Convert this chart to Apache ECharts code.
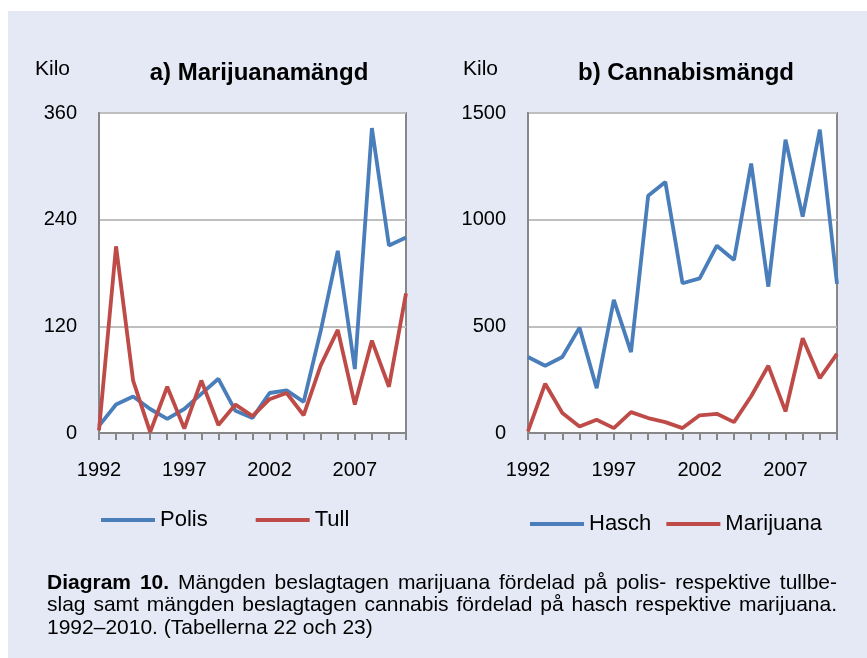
<!DOCTYPE html>
<html>
<head>
<meta charset="utf-8">
<script src="https://cdn.jsdelivr.net/npm/echarts@6/dist/echarts.min.js"></script>
<style>
html,body{margin:0;padding:0;background:#fff;}
#c{width:867px;height:658px;}
</style>
</head>
<body>
<div id="c"></div>
<script>
const years = ['1992','1993','1994','1995','1996','1997','1998','1999','2000','2001','2002','2003','2004','2005','2006','2007','2008','2009','2010'];
const polis = [8,32,41,27,16,27,44,61,25,17,45,48,35,115,205,72,343,211,220];
const tull = [3,210,59,1,52,5,59,9,32,19,38,45,20,76,116,32,104,52,157];
const hasch = [356,315,356,494,210,624,379,1112,1177,702,725,878,811,1263,686,1375,1014,1422,699];
const marijuana = [8,231,94,30,62,23,98,70,51,23,83,90,51,172,315,101,444,257,371];
const leftTicks = {min:0, max:360, interval:120};
const rightTicks = {min:0, max:1500, interval:500};
const captionBold = 'Diagram 10.';
const captionLines = [
  'Diagram 10. Mängden beslagtagen marijuana fördelad på polis- respektive tullbe-',
  'slag samt mängden beslagtagen cannabis fördelad på hasch respektive marijuana.',
  '1992–2010. (Tabellerna 22 och 23)'
];

const BLUE = '#4a7ebb', RED = '#be4b48';
const font = 'Liberation Sans, Arial, sans-serif';
const chart = echarts.init(document.getElementById('c'));

function xAx(gi){
  return {
    type:'category', gridIndex:gi, data:years, boundaryGap:false,
    axisLine:{show:true, lineStyle:{color:'#878787', width:2}},
    axisTick:{show:true, interval:0, length:7, lineStyle:{color:'#878787', width:2}},
    axisLabel:{interval:4, color:'#000', fontSize:20, fontFamily:font, margin:27},
    splitLine:{show:false}
  };
}
function yAx(gi, t){
  return {
    type:'value', gridIndex:gi, min:t.min, max:t.max, interval:t.interval,
    axisLine:{show:true, lineStyle:{color:'#878787', width:2}},
    axisTick:{show:false},
    axisLabel:{color:'#000', fontSize:20, fontFamily:font, margin:22, formatter:v => String(v)},
    splitLine:{show:true, lineStyle:{color:'#bfbfbf', width:2}}
  };
}
function ser(name, data, color, gi){
  return {
    type:'line', name:name, data:data, xAxisIndex:gi, yAxisIndex:gi,
    symbol:'none', lineStyle:{color:color, width:3.8}, itemStyle:{color:color},
    animation:false
  };
}

const graphics = [
  {type:'rect', shape:{x:8, y:11, width:859, height:647}, style:{fill:'#e5e9f5'}, z:-10},
  {type:'text', x:35, y:69, style:{text:'Kilo', fontSize:21, fontFamily:font, fill:'#000', verticalAlign:'middle'}},
  {type:'text', x:463, y:69, style:{text:'Kilo', fontSize:21, fontFamily:font, fill:'#000', verticalAlign:'middle'}}
];

// justified caption
const cv = document.createElement('canvas').getContext('2d');
const CAP_SIZE = 21, CAP_L = 47, CAP_R = 837;
function fontStr(b){ return (b ? 'bold ' : '') + CAP_SIZE + 'px "Liberation Sans", Arial, sans-serif'; }
captionLines.forEach((ln, i) => {
  const words = ln.split(' ');
  const boldCount = i === 0 ? captionBold.split(' ').length : 0;
  const items = words.map((w, k) => {
    const b = k < boldCount;
    cv.font = fontStr(b);
    return {w:w, b:b, width:cv.measureText(w).width};
  });
  cv.font = fontStr(false);
  const spaceW = cv.measureText(' ').width;
  const total = items.reduce((s, it) => s + it.width, 0);
  const justify = i < captionLines.length - 1;
  const gap = justify ? (CAP_R - CAP_L - total) / (items.length - 1) : spaceW;
  let x = CAP_L;
  const y = 583 + i * 22.5;
  items.forEach(it => {
    graphics.push({type:'text', x:x, y:y, style:{text:it.w, fontSize:CAP_SIZE, fontWeight:it.b ? 'bold' : 'normal',
      fontFamily:font, fill:'#000', verticalAlign:'middle'}});
    x += it.width + gap;
  });
});

chart.setOption({
  backgroundColor:'#fff',
  animation:false,
  title:[
    {text:'a) Marijuanamängd', left:254, top:56, textAlign:'center',
     textStyle:{fontSize:24, fontWeight:'bold', fontFamily:font, color:'#000'}},
    {text:'b) Cannabismängd', left:681, top:56, textAlign:'center',
     textStyle:{fontSize:24, fontWeight:'bold', fontFamily:font, color:'#000'}}
  ],
  grid:[
    {left:99, top:113, width:307, height:320, show:true, backgroundColor:'#fff', borderColor:'#878787', borderWidth:2},
    {left:528, top:113, width:309, height:320, show:true, backgroundColor:'#fff', borderColor:'#878787', borderWidth:2}
  ],
  xAxis:[xAx(0), xAx(1)],
  yAxis:[yAx(0, leftTicks), yAx(1, rightTicks)],
  legend:[
    {data:['Polis','Tull'], left:101, top:509, padding:0, icon:'rect', itemWidth:54, itemHeight:4, itemGap:48,
     textStyle:{fontSize:22, fontFamily:font, color:'#000'}},
    {data:['Hasch','Marijuana'], left:530, top:513, padding:0, icon:'rect', itemWidth:54, itemHeight:4, itemGap:15,
     textStyle:{fontSize:22, fontFamily:font, color:'#000'}}
  ],
  series:[
    ser('Polis', polis, BLUE, 0),
    ser('Tull', tull, RED, 0),
    ser('Hasch', hasch, BLUE, 1),
    ser('Marijuana', marijuana, RED, 1)
  ],
  graphic:graphics
});
</script>
</body>
</html>
